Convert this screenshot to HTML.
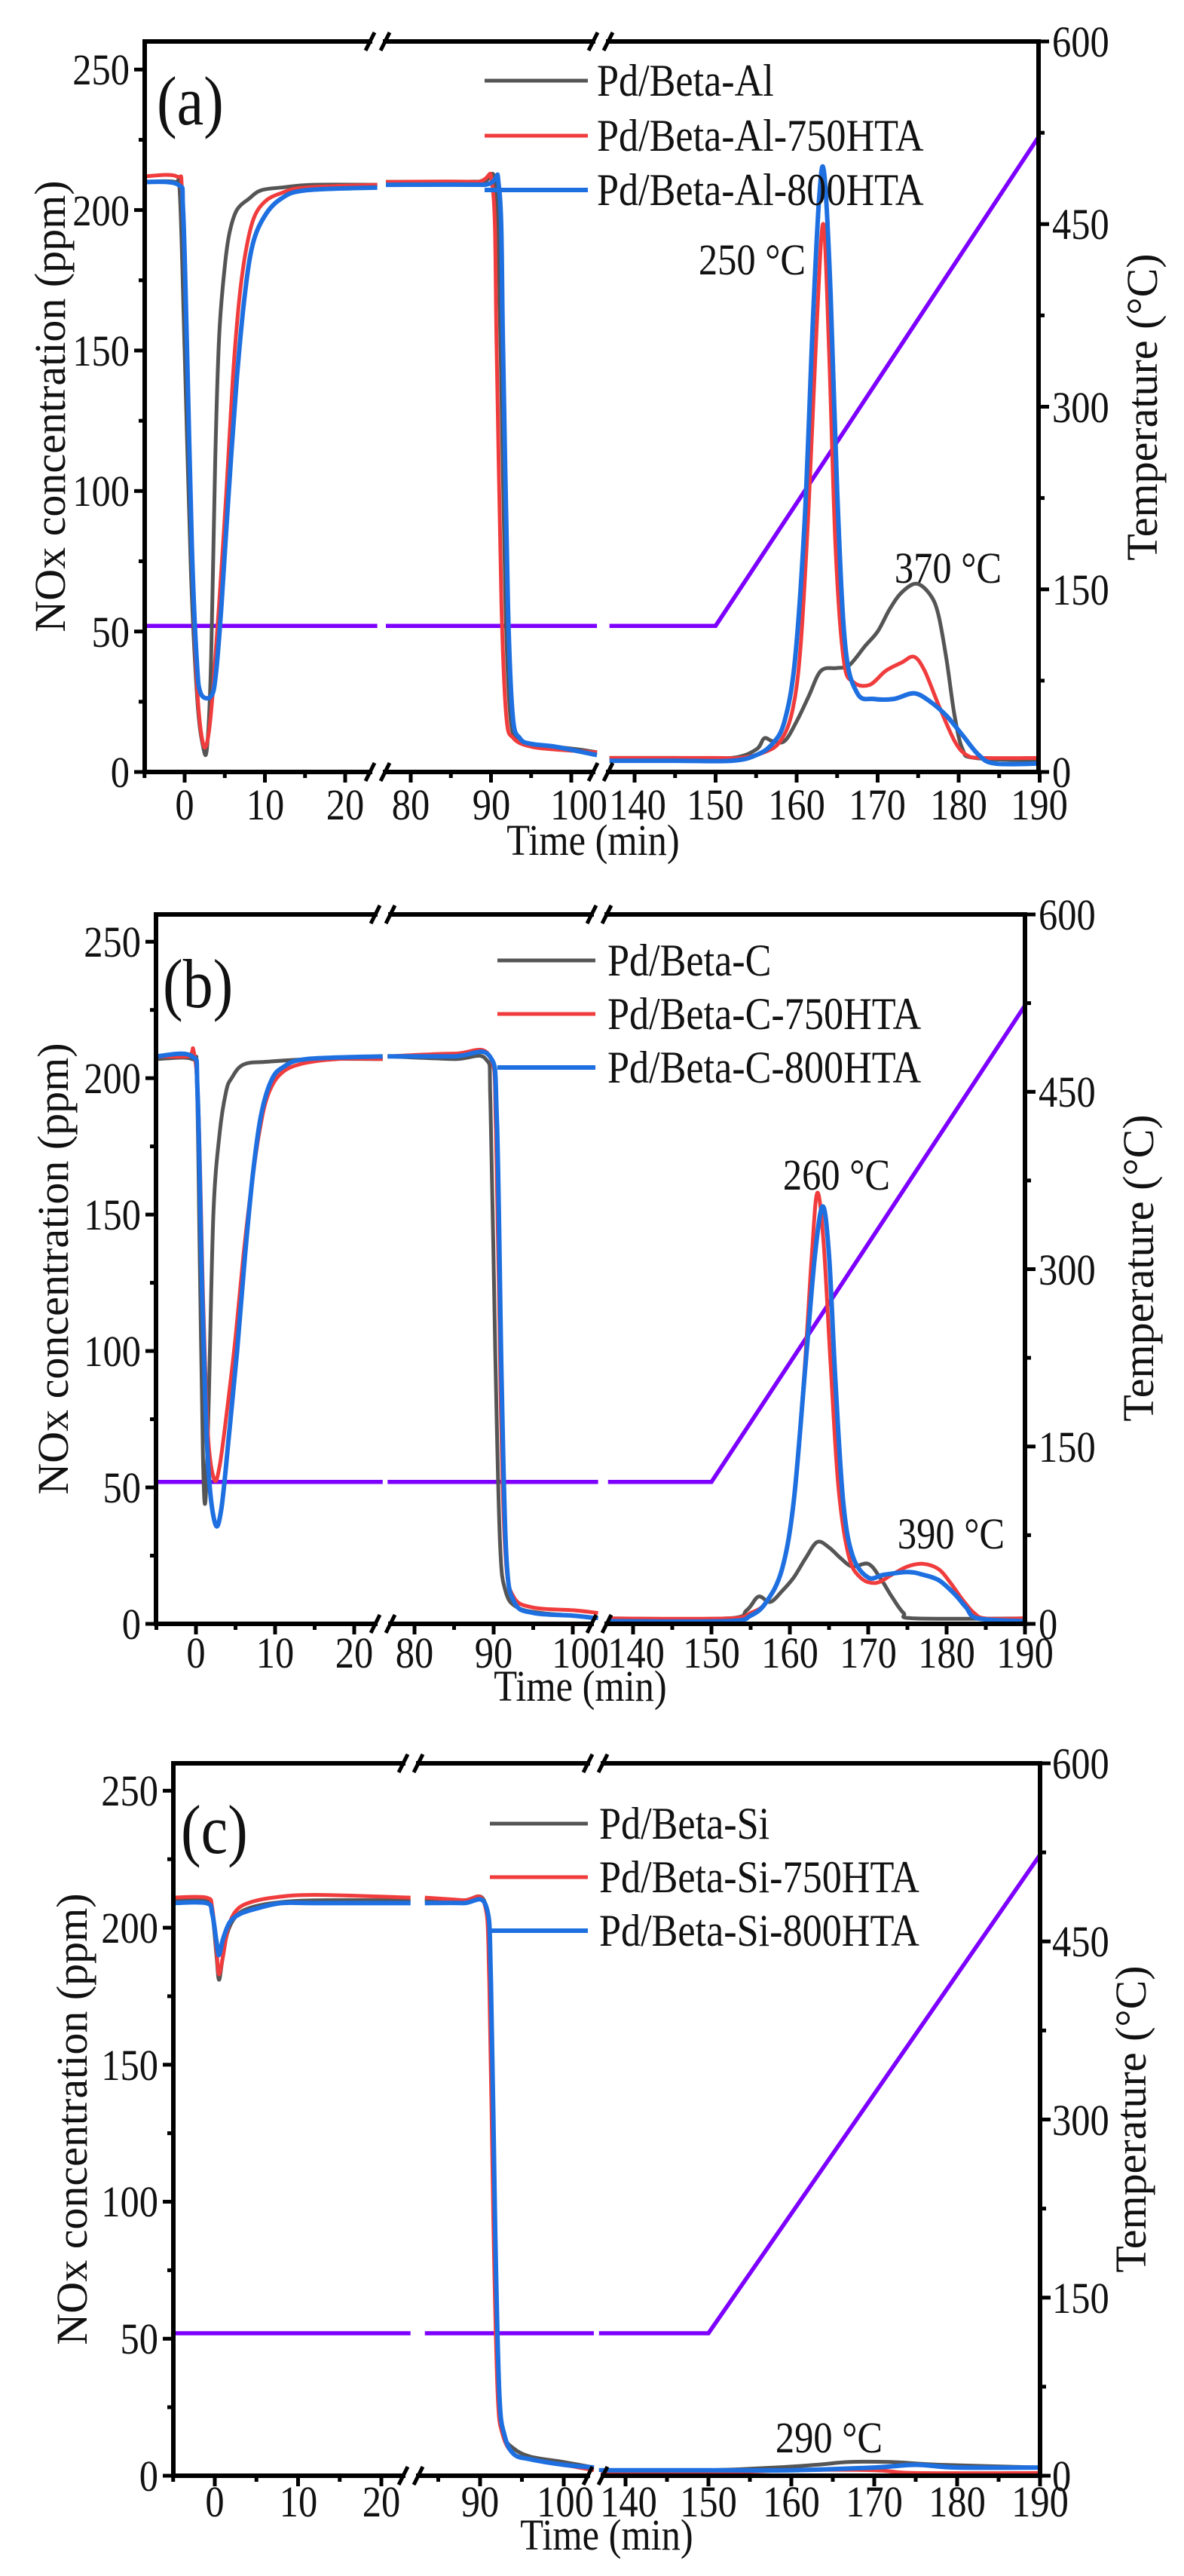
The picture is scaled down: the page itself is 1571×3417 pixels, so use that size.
<!DOCTYPE html>
<html><head><meta charset="utf-8"><style>
html,body{margin:0;padding:0;background:#fff}
svg{display:block}
.t{font-family:"Liberation Serif",serif;font-size:58px;fill:#111;transform-box:fill-box;transform-origin:center;transform:scaleX(.87)}
.tl{transform-origin:left center}
.tr{transform-origin:right center}
.lg{font-size:60px}
.big{font-size:92px}
.rot{font-family:"Liberation Serif",serif;font-size:58px;fill:#111}
</style></head><body>
<svg id="s" width="1571" height="3417" xmlns="http://www.w3.org/2000/svg">
<rect width="1571" height="3417" fill="#fff"/>
<g id="plots"></g>
<!-- Panel A text -->
<g>
<text class="t tl big" x="208" y="165">(a)</text>
<text class="t tl lg" x="792" y="127">Pd/Beta-Al</text>
<text class="t tl lg" x="792" y="200">Pd/Beta-Al-750HTA</text>
<text class="t tl lg" x="792" y="272">Pd/Beta-Al-800HTA</text>
<text class="t" x="998" y="364" text-anchor="middle">250 °C</text>
<text class="t" x="1258" y="773" text-anchor="middle">370 °C</text>
<text class="t tr" x="172" y="1044" text-anchor="end">0</text>
<text class="t tr" x="172" y="858" text-anchor="end">50</text>
<text class="t tr" x="172" y="671" text-anchor="end">100</text>
<text class="t tr" x="172" y="485" text-anchor="end">150</text>
<text class="t tr" x="172" y="299" text-anchor="end">200</text>
<text class="t tr" x="172" y="112" text-anchor="end">250</text>
<text class="t tl" x="1396" y="1044">0</text>
<text class="t tl" x="1396" y="802">150</text>
<text class="t tl" x="1396" y="560">300</text>
<text class="t tl" x="1396" y="317">450</text>
<text class="t tl" x="1396" y="75">600</text>
<text class="t" x="245" y="1087" text-anchor="middle">0</text>
<text class="t" x="352" y="1087" text-anchor="middle">10</text>
<text class="t" x="458" y="1087" text-anchor="middle">20</text>
<text class="t" x="545" y="1087" text-anchor="middle">80</text>
<text class="t" x="652" y="1087" text-anchor="middle">90</text>
<text class="t" x="768" y="1087" text-anchor="middle">100</text>
<text class="t" x="846" y="1087" text-anchor="middle">140</text>
<text class="t" x="949" y="1087" text-anchor="middle">150</text>
<text class="t" x="1057" y="1087" text-anchor="middle">160</text>
<text class="t" x="1164" y="1087" text-anchor="middle">170</text>
<text class="t" x="1272" y="1087" text-anchor="middle">180</text>
<text class="t" x="1379" y="1087" text-anchor="middle">190</text>
<text class="t" x="787" y="1134" text-anchor="middle">Time (min)</text>
<text class="rot" transform="rotate(-90 66 539)" x="66" y="559" text-anchor="middle">NOx concentration (ppm)</text>
<text class="rot" transform="rotate(-90 1515 540)" x="1515" y="560" text-anchor="middle">Temperature (°C)</text>
</g>
<!-- Panel B text -->
<g>
<text class="t tl big" x="216" y="1336">(b)</text>
<text class="t tl lg" x="806" y="1294">Pd/Beta-C</text>
<text class="t tl lg" x="806" y="1365">Pd/Beta-C-750HTA</text>
<text class="t tl lg" x="806" y="1436">Pd/Beta-C-800HTA</text>
<text class="t" x="1110" y="1578" text-anchor="middle">260 °C</text>
<text class="t" x="1262" y="2054" text-anchor="middle">390 °C</text>
<text class="t tr" x="187" y="2174" text-anchor="end">0</text>
<text class="t tr" x="187" y="1993" text-anchor="end">50</text>
<text class="t tr" x="187" y="1812" text-anchor="end">100</text>
<text class="t tr" x="187" y="1631" text-anchor="end">150</text>
<text class="t tr" x="187" y="1450" text-anchor="end">200</text>
<text class="t tr" x="187" y="1269" text-anchor="end">250</text>
<text class="t tl" x="1378" y="2174">0</text>
<text class="t tl" x="1378" y="1939">150</text>
<text class="t tl" x="1378" y="1704">300</text>
<text class="t tl" x="1378" y="1468">450</text>
<text class="t tl" x="1378" y="1233">600</text>
<text class="t" x="260" y="2212" text-anchor="middle">0</text>
<text class="t" x="365" y="2212" text-anchor="middle">10</text>
<text class="t" x="470" y="2212" text-anchor="middle">20</text>
<text class="t" x="550" y="2212" text-anchor="middle">80</text>
<text class="t" x="655" y="2212" text-anchor="middle">90</text>
<text class="t" x="770" y="2212" text-anchor="middle">100</text>
<text class="t" x="844" y="2212" text-anchor="middle">140</text>
<text class="t" x="944" y="2212" text-anchor="middle">150</text>
<text class="t" x="1048" y="2212" text-anchor="middle">160</text>
<text class="t" x="1152" y="2212" text-anchor="middle">170</text>
<text class="t" x="1256" y="2212" text-anchor="middle">180</text>
<text class="t" x="1360" y="2212" text-anchor="middle">190</text>
<text class="t" x="770" y="2256" text-anchor="middle">Time (min)</text>
<text class="rot" transform="rotate(-90 70 1683)" x="70" y="1703" text-anchor="middle">NOx concentration (ppm)</text>
<text class="rot" transform="rotate(-90 1510 1682)" x="1510" y="1702" text-anchor="middle">Temperature (°C)</text>
</g>
<!-- Panel C text -->
<g>
<text class="t tl big" x="240" y="2458">(c)</text>
<text class="t tl lg" x="795" y="2439">Pd/Beta-Si</text>
<text class="t tl lg" x="795" y="2510">Pd/Beta-Si-750HTA</text>
<text class="t tl lg" x="795" y="2581">Pd/Beta-Si-800HTA</text>
<text class="t" x="1100" y="3253" text-anchor="middle">290 °C</text>
<text class="t tr" x="210" y="3304" text-anchor="end">0</text>
<text class="t tr" x="210" y="3122" text-anchor="end">50</text>
<text class="t tr" x="210" y="2940" text-anchor="end">100</text>
<text class="t tr" x="210" y="2759" text-anchor="end">150</text>
<text class="t tr" x="210" y="2577" text-anchor="end">200</text>
<text class="t tr" x="210" y="2395" text-anchor="end">250</text>
<text class="t tl" x="1396" y="3304">0</text>
<text class="t tl" x="1396" y="3068">150</text>
<text class="t tl" x="1396" y="2832">300</text>
<text class="t tl" x="1396" y="2595">450</text>
<text class="t tl" x="1396" y="2359">600</text>
<text class="t" x="285" y="3338" text-anchor="middle">0</text>
<text class="t" x="396" y="3338" text-anchor="middle">10</text>
<text class="t" x="506" y="3338" text-anchor="middle">20</text>
<text class="t" x="637" y="3338" text-anchor="middle">90</text>
<text class="t" x="750" y="3338" text-anchor="middle">100</text>
<text class="t" x="834" y="3338" text-anchor="middle">140</text>
<text class="t" x="940" y="3338" text-anchor="middle">150</text>
<text class="t" x="1050" y="3338" text-anchor="middle">160</text>
<text class="t" x="1160" y="3338" text-anchor="middle">170</text>
<text class="t" x="1270" y="3338" text-anchor="middle">180</text>
<text class="t" x="1380" y="3338" text-anchor="middle">190</text>
<text class="t" x="805" y="3382" text-anchor="middle">Time (min)</text>
<text class="rot" transform="rotate(-90 95 2811)" x="95" y="2831" text-anchor="middle">NOx concentration (ppm)</text>
<text class="rot" transform="rotate(-90 1500 2811)" x="1500" y="2831" text-anchor="middle">Temperature (°C)</text>
</g>
</svg>
<script>
(function(){
var NS="http://www.w3.org/2000/svg",G=document.getElementById("plots");
function el(n,a){var e=document.createElementNS(NS,n);for(var k in a)e.setAttribute(k,a[k]);G.appendChild(e);return e;}
var BK="#555",RD="#f03c3c",BL="#1e6fe0",PU="#7d00ff";
var P=[
{L:192,R:1378,T:55,B:1024,brk:[501,797],
 seg:[{a:-5,b:24,f:function(t){return 245+10.65*t}},{a:76.9,b:103.2,f:function(t){return 545+10.65*(t-80)}},{a:136.9,b:190,f:function(t){return 842+10.75*(t-140)}}],
 major:[[0,10,20],[80,90,100],[140,150,160,170,180,190]],minor:[[-5,5,15],[85,95],[145,155,165,175,185]],
 leg:[107,180,252],legx:[643,780],
 s:{k:[[-5,210],[-1.2,210],[-0.6,206],[0,150],[0.8,70],[1.6,25],[2.3,9],[2.8,9],[3.3,40],[3.8,110],[4.3,155],[5,180],[5.6,192],[6.5,200],[8,204],[9.5,207],[12,208],[16,209],[24,209],[76.9,210],[85,210],[89,210],[90.6,208],[91.2,150],[91.8,60],[92.4,20],[93.3,12],[95,10],[98,9],[101,8],[103.2,7],[136.9,5],[145,5],[152,5],[155,8],[156,12],[157,11],[158.5,11],[160,18],[161.5,27],[163,36],[165,37],[166.5,38],[168.5,45],[170,50],[171.5,58],[173,64],[174.8,67],[176.5,63],[177.5,56],[178.5,40],[179.5,20],[180.5,8],[182,5],[190,4]],
    r:[[-5,212],[-1,212],[-0.3,205],[0.3,150],[1,70],[1.6,28],[2.3,10],[2.9,12],[3.5,28],[4.3,60],[5.2,100],[6,140],[6.8,168],[7.6,185],[8.6,197],[10,203],[12,206],[15,208],[24,209],[76.9,210],[88,210],[90.2,208],[90.7,150],[91.3,60],[91.9,20],[92.8,12],[95,9],[98,8],[103.2,7],[136.9,5],[150,5],[153,5],[156,7],[158,11],[159.5,22],[160.5,45],[161.5,95],[162.5,160],[163.3,195],[164,150],[164.8,80],[165.8,40],[167,32],[169,31],[171,36],[173,39],[174.5,41],[175.8,36],[177.5,24],[179.5,11],[181,6],[183,5],[190,5]],
    b:[[-5,210],[-0.8,209],[-0.2,200],[0.3,150],[0.9,80],[1.5,40],[2,28],[3.3,27],[3.9,35],[4.6,60],[5.5,100],[6.5,140],[7.5,170],[8.5,188],[10,198],[12,204],[15,207],[24,208],[76.9,209],[89,209],[91,208],[91.5,150],[92.1,60],[92.7,20],[93.6,12],[95,10],[98,9],[103.2,6],[136.9,4],[145,4],[152,4],[155,6],[157,10],[158.5,18],[159.8,40],[161,90],[162,160],[162.8,205],[163.4,213],[164.2,170],[165,100],[166,45],[167.5,28],[169.5,26],[172,26],[174.5,28],[176.5,25],[178.5,20],[180.5,13],[182.5,6],[184.5,3],[190,3]]}},
{L:207,R:1360,T:1213,B:2154,brk:[508,795],
 seg:[{a:-5,b:23.6,f:function(t){return 260+10.5*t}},{a:76.6,b:103.2,f:function(t){return 550+10.5*(t-80)}},{a:136.8,b:190,f:function(t){return 840+10.4*(t-140)}}],
 major:[[0,10,20],[80,90,100],[140,150,160,170,180,190]],minor:[[-5,5,15],[85,95],[145,155,165,175,185]],
 leg:[1274,1345,1416],legx:[660,790],
 s:{k:[[-5,207],[-0.5,207],[0.1,200],[0.5,130],[0.9,60],[1.2,45],[1.6,80],[2.2,150],[3,180],[3.8,195],[4.5,200],[6,205],[9,206],[15,207],[23.6,207],[76.6,208],[85,207],[89,207],[89.6,190],[90.2,100],[90.8,30],[91.5,12],[93,6],[96,4],[100,3],[103.2,2],[136.8,2],[152,2],[154.5,5],[156,10],[157.5,8],[159,12],[160.5,17],[162,24],[163.5,30],[165,28],[166.5,24],[168,21],[170,22],[171.5,17],[173,10],[174.5,4],[176,2],[190,2]],
    r:[[-5,208],[-1,208],[-0.3,210],[0.3,190],[0.9,120],[1.5,70],[2.3,53],[3,58],[4,80],[5,105],[6,135],[7,160],[8,180],[9,193],[10.5,201],[13,205],[18,207],[23.6,207],[76.6,208],[85,209],[89.5,208],[90.3,180],[90.9,80],[91.5,25],[92.5,10],[95,6],[100,5],[103.2,4],[136.8,2],[152,2],[155,4],[157,8],[159,20],[160.5,45],[161.8,90],[162.8,135],[163.5,158],[164.3,140],[165.2,95],[166.2,50],[167.5,25],[169,17],[171,15],[173,18],[175,21],[177,22],[179,20],[180.5,15],[182,9],[183.5,4],[185,2],[190,2]],
    b:[[-5,208],[-0.5,208],[0.2,195],[0.8,120],[1.5,60],[2.4,37],[3.2,42],[4.2,70],[5.2,100],[6.2,135],[7.2,165],[8.2,186],[9.5,199],[11,204],[14,207],[23.6,208],[76.6,208],[85,208],[89.5,208],[90.4,185],[91,90],[91.6,25],[92.6,8],[95,4],[100,3],[103.2,2],[136.8,1],[152,1],[155,3],[157,8],[159,20],[160.5,45],[162,95],[163.2,135],[164.2,153],[165,135],[165.8,90],[166.8,45],[168,25],[170,17],[172,18],[175,19],[177,18],[179,16],[181,11],[182.5,6],[184,2],[190,1]]}},
{L:230,R:1380,T:2339,B:3284,brk:[545,790],
 seg:[{a:-5,b:23.5,f:function(t){return 285+11.05*t}},{a:83.4,b:103.6,f:function(t){return 637+11.1*(t-90)}},{a:136.8,b:190,f:function(t){return 830+11*(t-140)}}],
 major:[[0,10,20],[90,100],[140,150,160,170,180,190]],minor:[[-5,5,15],[85,95],[145,155,165,175,185]],
 leg:[2419,2490,2561],legx:[650,780],
 s:{k:[[-5,210],[-1,210],[-0.3,205],[0.2,190],[0.5,181],[0.9,188],[1.5,198],[2.5,204],[4,207],[7,209],[12,210],[23.5,210],[83.4,210],[88,210],[90.6,209],[91.2,180],[91.7,90],[92.2,30],[92.8,15],[94,10],[96,7],[100,5],[103.6,3],[136.8,2],[150,2],[158,3],[163,4],[167,5],[172,5],[178,4],[190,3]],
    r:[[-5,211],[-1,211],[-0.3,207],[0.2,192],[0.5,183],[1,190],[1.6,200],[2.5,206],[4,209],[7,211],[12,212],[23.5,211],[83.4,211],[88,210],[90.5,209],[91.1,180],[91.6,90],[92.1,30],[92.7,15],[94,8],[96,6],[100,4],[103.6,2],[136.8,1],[150,1],[160,2],[170,2],[175,1],[190,1]],
    b:[[-5,209],[-1,209],[-0.3,205],[0.2,195],[0.5,190],[1,196],[1.8,202],[3,205],[5,207],[8,209],[12,209],[23.5,209],[83.4,209],[88,209],[90.7,208],[91.3,180],[91.8,90],[92.3,30],[92.9,15],[94,8],[96,6],[100,4],[103.6,3],[136.8,2],[150,2],[160,2],[170,3],[175,4],[180,3],[190,3]]}}
];
P.forEach(function(p){
  var Y=function(v){return p.B-v*(p.B-p.T)/260};
  var YT=function(v){return p.B-v*(p.B-p.T)/600};
  p.seg.forEach(function(s,i){
    var pts=[];
    if(i<2){pts=[[s.f(s.a),YT(120)],[s.f(s.b),YT(120)]];}
    else{pts=[[s.f(s.a),YT(120)],[s.f(150),YT(120)],[s.f(190),YT(523)]];}
    el("polyline",{points:pts.map(function(q){return q.join(",")}).join(" "),fill:"none",stroke:PU,"stroke-width":5.5});
  });
  [["k",BK],["r",RD],["b",BL]].forEach(function(c){
    var data=p.s[c[0]];
    p.seg.forEach(function(s){
      var pts=data.filter(function(d){return d[0]>=s.a-1e-6&&d[0]<=s.b+1e-6});
      if(pts.length<2)return;
      var P2=pts.map(function(d){return [s.f(d[0]),Y(d[1])]});
      var d="M"+P2[0][0].toFixed(1)+","+P2[0][1].toFixed(1);
      for(var i=0;i<P2.length-1;i++){
        var p0=P2[i-1]||P2[i],p1=P2[i],p2=P2[i+1],p3=P2[i+2]||p2;
        var c1=[p1[0]+(p2[0]-p0[0])/6,p1[1]+(p2[1]-p0[1])/6],c2=[p2[0]-(p3[0]-p1[0])/6,p2[1]-(p3[1]-p1[1])/6];
        d+="C"+c1[0].toFixed(1)+","+c1[1].toFixed(1)+" "+c2[0].toFixed(1)+","+c2[1].toFixed(1)+" "+p2[0].toFixed(1)+","+p2[1].toFixed(1);
      }
      el("path",{d:d,fill:"none",stroke:c[1],"stroke-width":c[0]=="b"?6:5,"stroke-linejoin":"round"});
    });
  });
  [BK,RD,BL].forEach(function(c,i){el("line",{x1:p.legx[0],x2:p.legx[1],y1:p.leg[i],y2:p.leg[i],stroke:c,"stroke-width":c==BL?6:5});});
  var sw=6;
  el("line",{x1:p.L,x2:p.L,y1:p.T-3,y2:p.B+3,stroke:"#000","stroke-width":sw});
  el("line",{x1:p.R,x2:p.R,y1:p.T-3,y2:p.B+3,stroke:"#000","stroke-width":sw});
  el("line",{x1:p.L-3,x2:p.R+3,y1:p.T,y2:p.T,stroke:"#000","stroke-width":sw});
  el("line",{x1:p.L-3,x2:p.R+3,y1:p.B,y2:p.B,stroke:"#000","stroke-width":sw});
  for(var v=0;v<=250;v+=25){var y=Y(v);el("line",{x1:p.L-(v%50?8:14),x2:p.L,y1:y,y2:y,stroke:"#000","stroke-width":5});}
  for(var v=0;v<=600;v+=75){var y=YT(v);el("line",{x1:p.R,x2:p.R+(v%150?8:14),y1:y,y2:y,stroke:"#000","stroke-width":5});}
  p.seg.forEach(function(s,i){
    p.major[i].forEach(function(t){var x=s.f(t);el("line",{x1:x,x2:x,y1:p.B,y2:p.B+14,stroke:"#000","stroke-width":5});});
    p.minor[i].forEach(function(t){var x=s.f(t);if(x<p.L-1)return;el("line",{x1:x,x2:x,y1:p.B,y2:p.B+8,stroke:"#000","stroke-width":5});});
  });
  p.brk.forEach(function(bx){
    [p.T,p.B].forEach(function(y){
      el("rect",{x:bx-7,y:y-5,width:14,height:10,fill:"#fff"});
      el("line",{x1:bx-16,y1:y+12,x2:bx-4,y2:y-12,stroke:"#000","stroke-width":5});
      el("line",{x1:bx+4,y1:y+12,x2:bx+16,y2:y-12,stroke:"#000","stroke-width":5});
    });
  });
});
})();
</script>
</body></html>
